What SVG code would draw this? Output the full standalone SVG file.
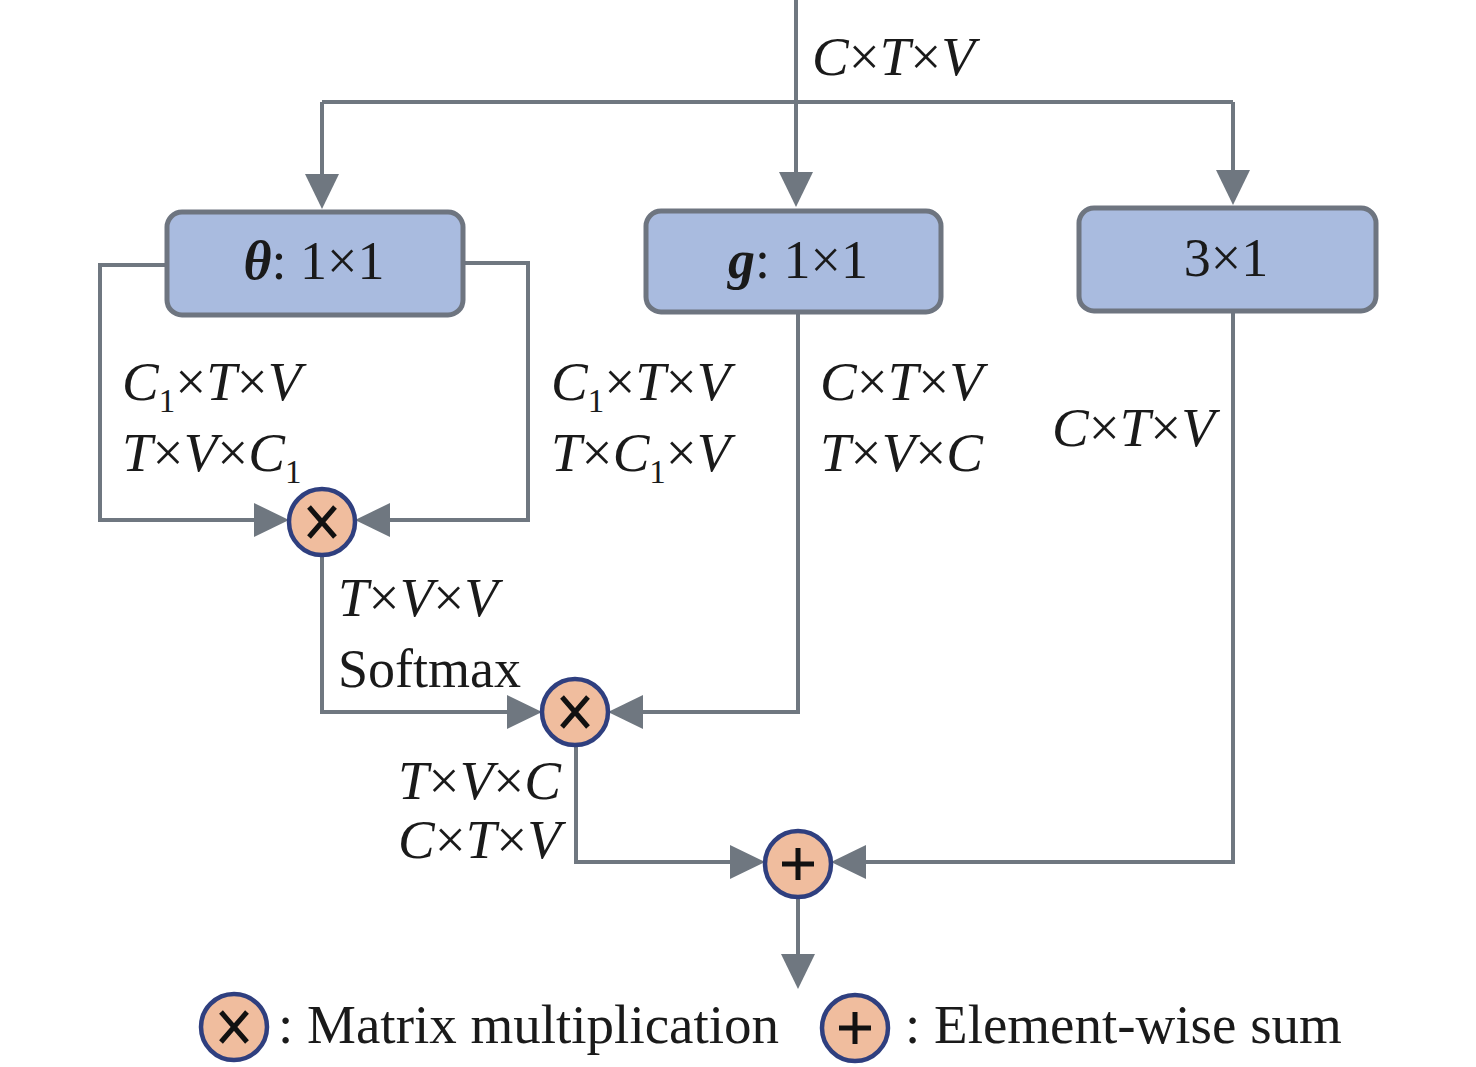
<svg xmlns="http://www.w3.org/2000/svg" width="1476" height="1067" viewBox="0 0 1476 1067">
<style>
.box{fill:#a9bbdf;stroke:#6e7580;stroke-width:5}
.ln{fill:none;stroke:#6f7780;stroke-width:4}
.op{fill:#f0bd9e;stroke:#2f3f7f;stroke-width:4.5}
.sym{fill:none;stroke:#111;stroke-width:5}
text{font-family:"Liberation Serif","Times New Roman",serif;fill:#1a1a1a}
.lb{font-size:55px;font-style:italic}
.up{font-style:normal}
.sub{font-style:normal;font-size:33px}
.bx{font-size:54px}
.lg{font-size:55px}
</style>
<g id="connectors">
<path class="ln" d="M796,0 V172"/>
<path d="M779,172 L813,172 L796,207 z" fill="#6f7780"/>
<path class="ln" d="M322,102 H1233"/>
<path class="ln" d="M322,102 V174"/>
<path d="M305,174 L339,174 L322,209 z" fill="#6f7780"/>
<path class="ln" d="M1233,102 V170"/>
<path d="M1216,170 L1250,170 L1233,205 z" fill="#6f7780"/>
<path class="ln" d="M166,265 H100 V520 H254"/>
<path d="M254,503 L289,520 L254,537 z" fill="#6f7780"/>
<path class="ln" d="M463,263 H528 V520 H390"/>
<path d="M390,503 L355,520 L390,537 z" fill="#6f7780"/>
<path class="ln" d="M322,555 V712 H507"/>
<path d="M507,695 L542,712 L507,729 z" fill="#6f7780"/>
<path class="ln" d="M798,312 V712 H643"/>
<path d="M643,695 L608,712 L643,729 z" fill="#6f7780"/>
<path class="ln" d="M576,745 V862 H730"/>
<path d="M730,845 L765,862 L730,879 z" fill="#6f7780"/>
<path class="ln" d="M1233,311 V862 H866"/>
<path d="M866,845 L831,862 L866,879 z" fill="#6f7780"/>
<path class="ln" d="M798,898 V954"/>
<path d="M781,954 L815,954 L798,989 z" fill="#6f7780"/>
</g>
<g id="theta">
<rect class="box" x="167" y="212" width="296" height="103" rx="15"/>
<text class="bx" x="314" y="279" text-anchor="middle"><tspan font-style="italic" font-weight="bold">θ</tspan>: 1×1</text>
</g>
<g id="g">
<rect class="box" x="646" y="211" width="295" height="101" rx="15"/>
<text class="bx" x="798" y="278" text-anchor="middle"><tspan font-style="italic" font-weight="bold">g</tspan>: 1×1</text>
</g>
<g id="conv31">
<rect class="box" x="1079" y="208" width="297" height="103" rx="15"/>
<text class="bx" x="1226" y="276" text-anchor="middle">3×1</text>
</g>
<g id="mul1">
<circle class="op" cx="322" cy="522" r="33"/>
<path class="sym" d="M309,507 L335,537 M335,507 L309,537"/>
</g>
<g id="mul2">
<circle class="op" cx="575" cy="712" r="33"/>
<path class="sym" d="M562,697 L588,727 M588,697 L562,727"/>
</g>
<g id="sum">
<circle class="op" cx="798" cy="864" r="33"/>
<path class="sym" d="M798,848 V880 M782,864 H814"/>
</g>
<g id="labels">
<text class="lb" x="812" y="75">C<tspan class="up">×</tspan>T<tspan class="up">×</tspan>V</text>
<text class="lb" x="122" y="400">C<tspan class="sub" dy="12">1</tspan><tspan class="up" dy="-12">×</tspan>T<tspan class="up">×</tspan>V</text>
<text class="lb" x="122" y="471">T<tspan class="up">×</tspan>V<tspan class="up">×</tspan>C<tspan class="sub" dy="12">1</tspan></text>
<text class="lb" x="551" y="400">C<tspan class="sub" dy="12">1</tspan><tspan class="up" dy="-12">×</tspan>T<tspan class="up">×</tspan>V</text>
<text class="lb" x="551" y="471">T<tspan class="up">×</tspan>C<tspan class="sub" dy="12">1</tspan><tspan class="up" dy="-12">×</tspan>V</text>
<text class="lb" x="820" y="400">C<tspan class="up">×</tspan>T<tspan class="up">×</tspan>V</text>
<text class="lb" x="820" y="471">T<tspan class="up">×</tspan>V<tspan class="up">×</tspan>C</text>
<text class="lb" x="1052" y="446">C<tspan class="up">×</tspan>T<tspan class="up">×</tspan>V</text>
<text class="lb" x="338" y="616">T<tspan class="up">×</tspan>V<tspan class="up">×</tspan>V</text>
<text class="bx" x="338" y="687">Softmax</text>
<text class="lb" x="398" y="799">T<tspan class="up">×</tspan>V<tspan class="up">×</tspan>C</text>
<text class="lb" x="398" y="858">C<tspan class="up">×</tspan>T<tspan class="up">×</tspan>V</text>
</g>
<g id="legend">
<circle class="op" cx="234" cy="1027" r="33"/>
<path class="sym" d="M221,1012 L247,1042 M247,1012 L221,1042"/>
<text class="lg" x="278" y="1043">: Matrix multiplication</text>
<circle class="op" cx="855" cy="1028" r="33"/>
<path class="sym" d="M855,1012 V1044 M839,1028 H871"/>
<text class="lg" x="905" y="1043">: Element-wise sum</text>
</g>
</svg>
